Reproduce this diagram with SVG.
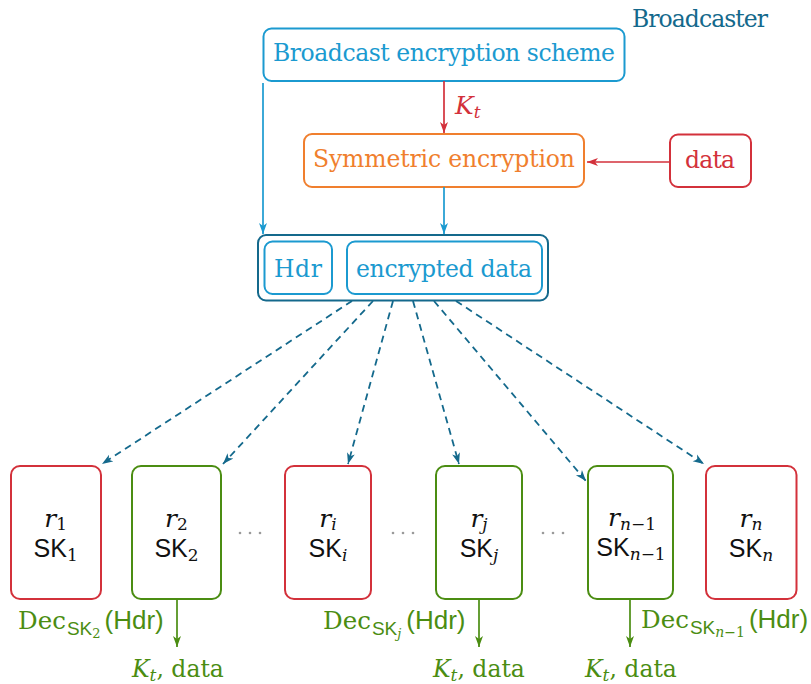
<svg xmlns="http://www.w3.org/2000/svg" width="811" height="684" viewBox="0 0 811 684">
<defs>
<style>
text{font-family:"DejaVu Serif","Liberation Serif",serif;font-size:23.5px}
.it{font-style:italic}
.ss{font-family:"Liberation Sans",Arial,sans-serif}
.box{fill:#fff;stroke-width:2}
.blue{stroke:#1b9ad0}
.teal{stroke:#14698c}
.orange{stroke:#f07f2e}
.red{stroke:#d3313b}
.green{stroke:#4b8d12}
.tblue{fill:#1b9ad0}
.tteal{fill:#14698c}
.torange{fill:#f07f2e}
.tred{fill:#d3313b}
.tgreen{fill:#4b8d12}
.tblack{fill:#111}
.con{fill:none;stroke-width:1.7}
.dash{fill:none;stroke:#14698c;stroke-width:1.8;stroke-dasharray:7 5}
.rt{font-size:25px}
.st{font-size:25px}
.sub{font-size:17px}
</style>
<marker id="aRed" markerUnits="userSpaceOnUse" markerWidth="12" markerHeight="10" viewBox="0 0 12 10" refX="11" refY="5" orient="auto"><path d="M0,1 L11,5 L0,9 L3,5 Z" fill="#d3313b"/></marker>
<marker id="aBlue" markerUnits="userSpaceOnUse" markerWidth="12" markerHeight="10" viewBox="0 0 12 10" refX="11" refY="5" orient="auto"><path d="M0,1 L11,5 L0,9 L3,5 Z" fill="#1b9ad0"/></marker>
<marker id="aTeal" markerUnits="userSpaceOnUse" markerWidth="12" markerHeight="10" viewBox="0 0 12 10" refX="11" refY="5" orient="auto"><path d="M0,1 L11,5 L0,9 L3,5 Z" fill="#14698c"/></marker>
<marker id="aGreen" markerUnits="userSpaceOnUse" markerWidth="12" markerHeight="10" viewBox="0 0 12 10" refX="11" refY="5" orient="auto"><path d="M0,1 L11,5 L0,9 L3,5 Z" fill="#4b8d12"/></marker>
</defs>
<rect width="811" height="684" fill="#fff"/>

<g id="broadcaster"><text x="632" y="27" class="tteal" textLength="136">Broadcaster</text></g>

<g id="bes"><rect class="box blue" x="263.5" y="28.5" width="361" height="52.5" rx="8"/><text x="273" y="61" class="tblue" textLength="342">Broadcast encryption scheme</text></g>

<g id="sym"><rect class="box orange" x="304" y="134" width="280" height="53" rx="8"/><text x="313" y="167" class="torange" textLength="262">Symmetric encryption</text></g>

<g id="data"><rect class="box red" x="670" y="134.5" width="81" height="52.5" rx="8"/><text x="685" y="168" class="tred" textLength="50">data</text></g>

<g id="packet"><rect class="box teal" x="258" y="235" width="290" height="65.5" rx="8"/>
<g id="hdr"><rect class="box blue" x="264.5" y="241.5" width="67.5" height="52.5" rx="8"/><text x="274" y="277" class="tblue" textLength="48">Hdr</text></g>
<g id="encdata"><rect class="box blue" x="347" y="241.5" width="195" height="52.5" rx="8"/><text x="356" y="277" class="tblue" textLength="176">encrypted data</text></g>
</g>

<g id="r1"><rect class="box red" x="11" y="466" width="90" height="133" rx="9"/>
<text x="55.7" y="526.5" text-anchor="middle" class="tblack"><tspan class="it rt">r</tspan><tspan class="sub" dy="3.5">1</tspan></text>
<text x="55.7" y="556.5" text-anchor="middle" class="tblack"><tspan class="ss st">SK</tspan><tspan class="sub" dy="4">1</tspan></text></g>

<g id="r2"><rect class="box green" x="132" y="466" width="89" height="133" rx="9"/>
<text x="176.5" y="526.5" text-anchor="middle" class="tblack"><tspan class="it rt">r</tspan><tspan class="sub" dy="3.5">2</tspan></text>
<text x="176.5" y="556.5" text-anchor="middle" class="tblack"><tspan class="ss st">SK</tspan><tspan class="sub" dy="4">2</tspan></text></g>

<g id="ri"><rect class="box red" x="285" y="466" width="86" height="133" rx="9"/>
<text x="328" y="526.5" text-anchor="middle" class="tblack"><tspan class="it rt">r</tspan><tspan class="sub it" dy="3.5">i</tspan></text>
<text x="328" y="556.5" text-anchor="middle" class="tblack"><tspan class="ss st">SK</tspan><tspan class="sub it" dy="4">i</tspan></text></g>

<g id="rj"><rect class="box green" x="436" y="466" width="86" height="133" rx="9"/>
<text x="479" y="526.5" text-anchor="middle" class="tblack"><tspan class="it rt">r</tspan><tspan class="sub it" dy="3.5">j</tspan></text>
<text x="479" y="556.5" text-anchor="middle" class="tblack"><tspan class="ss st">SK</tspan><tspan class="sub it" dy="4">j</tspan></text></g>

<g id="rn1"><rect class="box green" x="588" y="466" width="85" height="133" rx="9"/>
<text x="632" y="526" text-anchor="middle" class="tblack"><tspan class="it rt">r</tspan><tspan class="sub" font-size="18" dy="3.5"><tspan class="it">n</tspan>−1</tspan></text>
<text x="631" y="556" text-anchor="middle" class="tblack"><tspan class="ss st">SK</tspan><tspan class="sub" font-size="18" dy="4"><tspan class="it">n</tspan>−1</tspan></text></g>

<g id="rn"><rect class="box red" x="706" y="466" width="90.5" height="133" rx="9"/>
<text x="751" y="526.5" text-anchor="middle" class="tblack"><tspan class="it rt">r</tspan><tspan class="sub it" dy="3.5">n</tspan></text>
<text x="751" y="556.5" text-anchor="middle" class="tblack"><tspan class="ss st">SK</tspan><tspan class="sub it" dy="4">n</tspan></text></g>

<g id="dots" fill="#9a9a9a">
<circle cx="240" cy="533" r="1.3"/><circle cx="250" cy="533" r="1.3"/><circle cx="260" cy="533" r="1.3"/>
<circle cx="393" cy="533" r="1.3"/><circle cx="403" cy="533" r="1.3"/><circle cx="413" cy="533" r="1.3"/>
<circle cx="543" cy="533" r="1.3"/><circle cx="553" cy="533" r="1.3"/><circle cx="563" cy="533" r="1.3"/>
</g>

<g id="connectors">
<path class="con red" d="M444,81 V133" marker-end="url(#aRed)"/>
<path class="con red" d="M670,162 H587" marker-end="url(#aRed)"/>
<path class="con blue" d="M263,83 V234" marker-end="url(#aBlue)"/>
<path class="con blue" d="M444,187 V234" marker-end="url(#aBlue)"/>
<path class="dash" d="M352,301 L102,464" marker-end="url(#aTeal)"/>
<path class="dash" d="M373,301 L223,464" marker-end="url(#aTeal)"/>
<path class="dash" d="M393,301 L348,464" marker-end="url(#aTeal)"/>
<path class="dash" d="M413,301 L459,464" marker-end="url(#aTeal)"/>
<path class="dash" d="M434,301 L586,481" marker-end="url(#aTeal)"/>
<path class="dash" d="M456,301 L704,464" marker-end="url(#aTeal)"/>
<path class="con green" d="M177,599 V647" marker-end="url(#aGreen)"/>
<path class="con green" d="M479,599 V647" marker-end="url(#aGreen)"/>
<path class="con green" d="M630,599 V647" marker-end="url(#aGreen)"/>
<text x="455" y="114" class="tred"><tspan class="it rt">K</tspan><tspan class="it sub" dy="4">t</tspan></text>
<text x="18" y="629" class="tgreen"><tspan font-size="24.5">Dec</tspan><tspan dx="1" dy="6" class="ss" font-size="19">SK</tspan><tspan font-size="13" dy="3">2</tspan><tspan dx="4" dy="-9" class="ss" font-size="26">(Hdr)</tspan></text>
<text x="323" y="629" class="tgreen"><tspan font-size="24.5">Dec</tspan><tspan dx="1" dy="6" class="ss" font-size="19">SK</tspan><tspan class="it" font-size="13" dy="3">j</tspan><tspan dx="5" dy="-9" class="ss" font-size="26">(Hdr)</tspan></text>
<text x="641" y="628" class="tgreen"><tspan font-size="24.5">Dec</tspan><tspan dx="1" dy="6" class="ss" font-size="19">SK</tspan><tspan font-size="14" dy="3"><tspan class="it">n</tspan>−1</tspan><tspan dx="4" dy="-9" class="ss" font-size="26">(Hdr)</tspan></text>
<text x="132" y="677" class="tgreen"><tspan class="it">K</tspan><tspan class="it sub" dy="4">t</tspan><tspan dy="-4">, data</tspan></text>
<text x="433" y="677" class="tgreen"><tspan class="it">K</tspan><tspan class="it sub" dy="4">t</tspan><tspan dy="-4">, data</tspan></text>
<text x="585" y="677" class="tgreen"><tspan class="it">K</tspan><tspan class="it sub" dy="4">t</tspan><tspan dy="-4">, data</tspan></text>
</g>
</svg>
